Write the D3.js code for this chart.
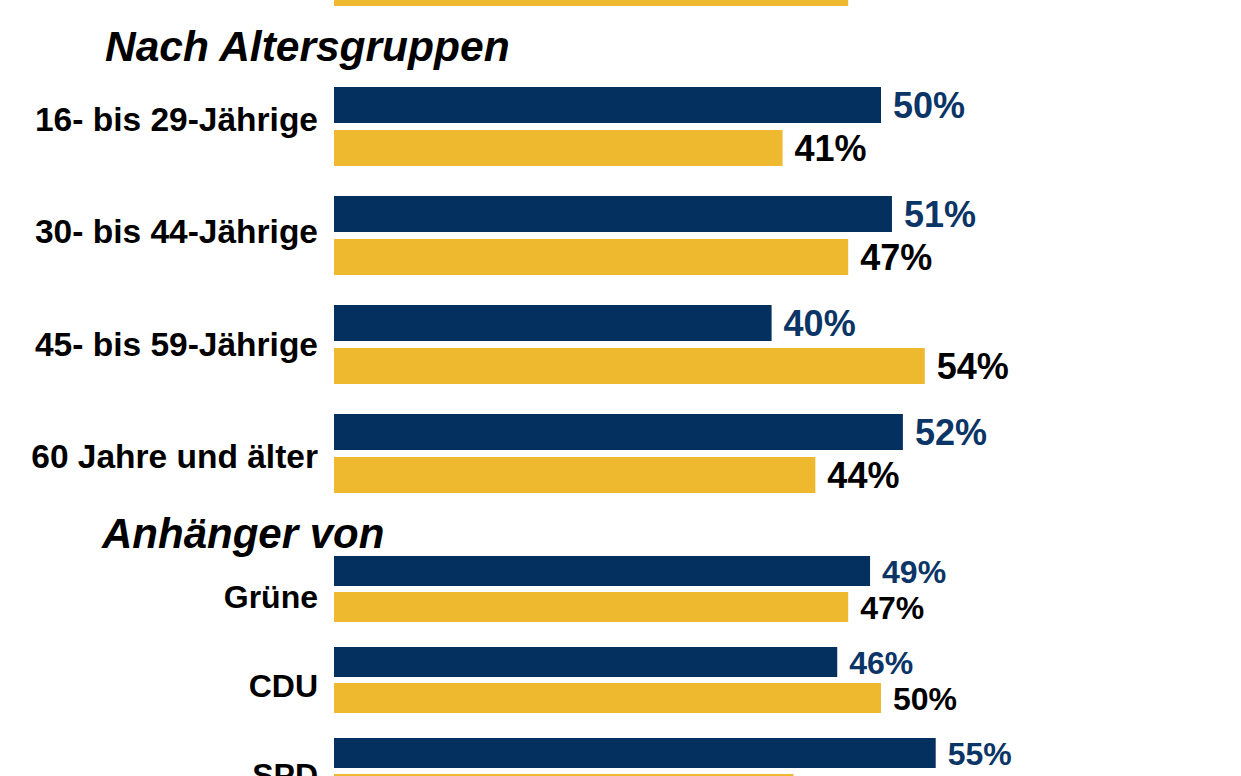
<!DOCTYPE html>
<html>
<head>
<meta charset="utf-8">
<script src="https://cdn.jsdelivr.net/npm/d3@7"></script>
<style>
  html, body { margin: 0; padding: 0; background: #fff; overflow: hidden; }
  svg { display: block; }
  .title { font-family: "Liberation Sans", Arial, sans-serif; font-weight: bold; font-style: italic; fill: #000; }
  .cat { font-family: "Liberation Sans", Arial, sans-serif; font-weight: bold; fill: #000; }
  .val { font-family: "Liberation Sans", Arial, sans-serif; font-weight: bold; }
</style>
</head>
<body>
<script>
/* Werte aus der Grafik */
var ageGroups = ["16- bis 29-Jährige", "30- bis 44-Jährige", "45- bis 59-Jährige", "60 Jahre und älter"];
var ageBlue = [50, 51, 40, 52];
var ageYellow = [41, 47, 54, 44];

var parties = ["Grüne", "CDU", "SPD"];
var partyBlue = [49, 46, 55];
var partyYellow = [47, 50, 42];

/* letzter Balken der Gruppe darüber (nur gelb sichtbar) */
var prevYellow = [47];

var navy = "#04305f", yellow = "#eeb92e", navyText = "#0b3566";

var width = 1241, height = 776;
var svg = d3.select("body").append("svg")
    .attr("width", width)
    .attr("height", height);

/* x scale shared by all bars */
var x = d3.scaleLinear().domain([0, 100]).range([334, 334 + 1094]);

/* top partial bar */
svg.selectAll("rect.prev")
    .data(prevYellow)
    .enter()
    .append("rect")
    .attr("class", "prev")
    .attr("x", x(0))
    .attr("y", -30)
    .attr("width", function(d){ return x(d) - x(0); })
    .attr("height", 36)
    .attr("fill", yellow);

/* draws one block of paired bars */
function drawSection(cats, blue, yel, opts) {
    var rows = cats.map(function(c, i){ return {cat: c, values: [blue[i], yel[i]]}; });
    var y = d3.scaleBand().domain(cats).range([opts.top, opts.top + cats.length * opts.step]);
    var inner = d3.scaleBand().domain([0, 1])
        .range([0, opts.bar * 2 + opts.gap])
        .paddingInner(opts.gap / (opts.bar + opts.gap));
    // labels sit on a slightly different grid than the bars
    var yLabel = d3.scaleBand().domain(cats)
        .range([opts.labelTop, opts.labelTop + cats.length * opts.labelStep]);

    var g = svg.append("g");
    var row = g.selectAll("g.row")
        .data(rows)
        .enter()
        .append("g")
        .attr("class", "row")
        .attr("transform", function(d){ return "translate(0," + y(d.cat) + ")"; });

    row.selectAll("rect")
        .data(function(d){ return d.values; })
        .enter()
        .append("rect")
        .attr("x", x(0))
        .attr("y", function(d, i){ return inner(i); })
        .attr("width", function(d){ return x(d) - x(0); })
        .attr("height", inner.bandwidth())
        .attr("fill", function(d, i){ return i == 0 ? navy : yellow; });

    row.selectAll("text.val")
        .data(function(d){ return d.values; })
        .enter()
        .append("text")
        .attr("class", "val")
        .attr("x", function(d){ return x(d) + 12; })
        .attr("y", function(d, i){ return inner(i) + inner.bandwidth() / 2 + opts.valSize * 0.36; })
        .attr("font-size", opts.valSize)
        .attr("fill", function(d, i){ return i == 0 ? navyText : "#000"; })
        .text(function(d){ return d + "%"; });

    g.selectAll("text.cat")
        .data(cats)
        .enter()
        .append("text")
        .attr("class", "cat")
        .attr("x", 318)
        .attr("y", function(d){ return yLabel(d) + opts.catSize * 0.36; })
        .attr("text-anchor", "end")
        .attr("font-size", opts.catSize)
        .text(function(d){ return d; });
}

/* Section headings */
svg.append("text").attr("class", "title")
    .attr("x", 105).attr("y", 61)
    .attr("font-size", 42.5)
    .text("Nach Altersgruppen");

drawSection(ageGroups, ageBlue, ageYellow,
    {top: 87, step: 109, bar: 36, gap: 7, valSize: 36, catSize: 33.5, labelTop: 119, labelStep: 112.3});

svg.append("text").attr("class", "title")
    .attr("x", 102).attr("y", 548)
    .attr("font-size", 42)
    .text("Anhänger von");

drawSection(parties, partyBlue, partyYellow,
    {top: 556, step: 91, bar: 30, gap: 6, valSize: 32, catSize: 32, labelTop: 596, labelStep: 89});
</script>
</body>
</html>
